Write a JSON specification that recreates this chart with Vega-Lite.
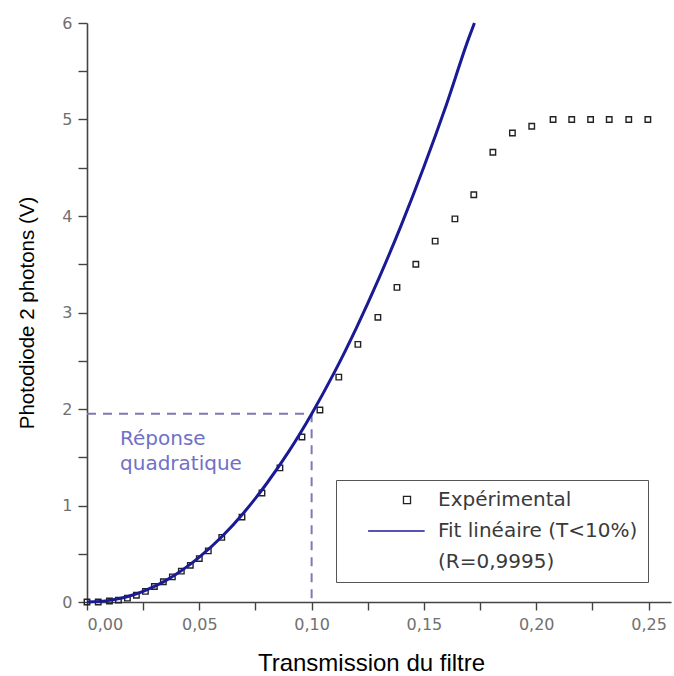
{
  "$schema": "https://vega.github.io/schema/vega-lite/v6.json",
  "width": 584,
  "height": 579,
  "autosize": "none",
  "padding": {"left": 87, "top": 23, "right": 3, "bottom": 74},
  "background": "white",
  "datasets": {
    "exp": [
      {"t": 0.000, "v": 0.00, "series": "Expérimental"},
      {"t": 0.005, "v": 0.00, "series": "Expérimental"},
      {"t": 0.010, "v": 0.01, "series": "Expérimental"},
      {"t": 0.014, "v": 0.02, "series": "Expérimental"},
      {"t": 0.018, "v": 0.04, "series": "Expérimental"},
      {"t": 0.022, "v": 0.07, "series": "Expérimental"},
      {"t": 0.026, "v": 0.11, "series": "Expérimental"},
      {"t": 0.030, "v": 0.16, "series": "Expérimental"},
      {"t": 0.034, "v": 0.21, "series": "Expérimental"},
      {"t": 0.038, "v": 0.26, "series": "Expérimental"},
      {"t": 0.042, "v": 0.32, "series": "Expérimental"},
      {"t": 0.046, "v": 0.38, "series": "Expérimental"},
      {"t": 0.050, "v": 0.45, "series": "Expérimental"},
      {"t": 0.054, "v": 0.53, "series": "Expérimental"},
      {"t": 0.060, "v": 0.67, "series": "Expérimental"},
      {"t": 0.069, "v": 0.88, "series": "Expérimental"},
      {"t": 0.0779, "v": 1.13, "series": "Expérimental"},
      {"t": 0.0859, "v": 1.39, "series": "Expérimental"},
      {"t": 0.0957, "v": 1.71, "series": "Expérimental"},
      {"t": 0.1037, "v": 1.99, "series": "Expérimental"},
      {"t": 0.1121, "v": 2.33, "series": "Expérimental"},
      {"t": 0.1206, "v": 2.67, "series": "Expérimental"},
      {"t": 0.1295, "v": 2.95, "series": "Expérimental"},
      {"t": 0.1380, "v": 3.26, "series": "Expérimental"},
      {"t": 0.1464, "v": 3.50, "series": "Expérimental"},
      {"t": 0.1550, "v": 3.74, "series": "Expérimental"},
      {"t": 0.1638, "v": 3.97, "series": "Expérimental"},
      {"t": 0.1722, "v": 4.22, "series": "Expérimental"},
      {"t": 0.1807, "v": 4.66, "series": "Expérimental"},
      {"t": 0.1894, "v": 4.86, "series": "Expérimental"},
      {"t": 0.1980, "v": 4.93, "series": "Expérimental"},
      {"t": 0.2075, "v": 5.00, "series": "Expérimental"},
      {"t": 0.2158, "v": 5.00, "series": "Expérimental"},
      {"t": 0.2242, "v": 5.00, "series": "Expérimental"},
      {"t": 0.2325, "v": 5.00, "series": "Expérimental"},
      {"t": 0.2412, "v": 5.00, "series": "Expérimental"},
      {"t": 0.2497, "v": 5.00, "series": "Expérimental"}
    ],
    "fit": [
      {"t": 0.000, "v": 0.000},
      {"t": 0.010, "v": 0.017},
      {"t": 0.015, "v": 0.038},
      {"t": 0.020, "v": 0.070},
      {"t": 0.025, "v": 0.111},
      {"t": 0.030, "v": 0.161},
      {"t": 0.035, "v": 0.222},
      {"t": 0.040, "v": 0.293},
      {"t": 0.045, "v": 0.374},
      {"t": 0.050, "v": 0.465},
      {"t": 0.060, "v": 0.676},
      {"t": 0.070, "v": 0.931},
      {"t": 0.080, "v": 1.228},
      {"t": 0.090, "v": 1.566},
      {"t": 0.100, "v": 1.949},
      {"t": 0.110, "v": 2.374},
      {"t": 0.120, "v": 2.844},
      {"t": 0.130, "v": 3.356},
      {"t": 0.140, "v": 3.911},
      {"t": 0.150, "v": 4.511},
      {"t": 0.160, "v": 5.154},
      {"t": 0.170, "v": 5.846},
      {"t": 0.1725, "v": 6.000}
    ],
    "guide": [
      {"t": 0.0, "v": 1.95},
      {"t": 0.1, "v": 1.95},
      {"t": 0.1, "v": 0.0}
    ],
    "note": [
      {"t": 0.0147, "v": 1.69, "label": "Réponse"},
      {"t": 0.0147, "v": 1.43, "label": "quadratique"}
    ]
  },
  "layer": [
    {
      "data": {"name": "guide"},
      "mark": {"type": "line", "color": "#7a7ab4", "strokeWidth": 2, "strokeDash": [9, 7]},
      "encoding": {
        "x": {"field": "t", "type": "quantitative", "scale": {"domain": [0, 0.26], "nice": false, "zero": false},
          "axis": {"orient": "bottom", "title": "Transmission du filtre", "titleFontSize": 24, "titleX": 284,
            "values": [0, 0.025, 0.05, 0.075, 0.1, 0.125, 0.15, 0.175, 0.2, 0.225, 0.25],
            "labelExpr": "abs(datum.value*20 - round(datum.value*20)) < 0.01 ? replace(format(datum.value, '.2f'), '.', ',') : ''",
            "tickSize": 8, "labelPadding": 6, "titlePadding": 19}},
        "y": {"field": "v", "type": "quantitative", "scale": {"domain": [0, 6], "nice": false},
          "axis": {"orient": "left", "title": "Photodiode 2 photons (V)", "titleFontSize": 20.5,
            "values": [0, 0.5, 1, 1.5, 2, 2.5, 3, 3.5, 4, 4.5, 5, 5.5, 6],
            "labelExpr": "datum.value % 1 === 0 ? format(datum.value, 'd') : ''",
            "tickSize": 9, "labelPadding": 6, "titlePadding": 24}}
      }
    },
    {
      "data": {"name": "exp"},
      "mark": {"type": "point", "filled": false, "size": 30, "strokeWidth": 1.4, "opacity": 1},
      "encoding": {
        "x": {"field": "t", "type": "quantitative"},
        "y": {"field": "v", "type": "quantitative"},
        "color": {
          "field": "series", "type": "nominal",
          "scale": {"domain": ["Expérimental", "Fit linéaire (T<10%)", "(R=0,9995)"], "range": ["#222222", "#1c1c96", "#ffffff"]},
          "legend": {
            "orient": "none", "legendX": 249, "legendY": 457, "title": null,
            "padding": 10, "strokeColor": "#555555", "fillColor": "white",
            "labelFont": "DejaVu Sans", "labelFontSize": 20, "labelColor": "#3a3a3a", "labelLimit": 500,
            "labelExpr": "datum.label === 'Fit linéaire (T<10%)' ? datum.label + '\u00a0\u00a0\u00a0\u00a0' : datum.label",
            "symbolSize": 50, "symbolStrokeWidth": 1.3, "rowPadding": 11, "labelOffset": 21, "symbolOffset": 51,
            "encode": {
              "legend": {"update": {"strokeWidth": {"value": 1.5}}},
              "symbols": {"update": {
                "strokeWidth": {"signal": "datum.value === 'Fit linéaire (T<10%)' ? 2.5 : 1.3"},
                "opacity": {"signal": "datum.value === '(R=0,9995)' ? 0 : 1"}
              }}
            }
          }
        },
        "shape": {
          "field": "series", "type": "nominal",
          "scale": {"domain": ["Expérimental", "Fit linéaire (T<10%)", "(R=0,9995)"], "range": ["square", "M-11,0H5", "circle"]},
          "legend": {
            "orient": "none", "legendX": 249, "legendY": 457, "title": null,
            "padding": 10, "strokeColor": "#555555", "fillColor": "white",
            "labelFont": "DejaVu Sans", "labelFontSize": 20, "labelColor": "#3a3a3a", "labelLimit": 500,
            "labelExpr": "datum.label === 'Fit linéaire (T<10%)' ? datum.label + '\u00a0\u00a0\u00a0\u00a0' : datum.label",
            "symbolSize": 50, "symbolStrokeWidth": 1.3, "rowPadding": 11, "labelOffset": 21, "symbolOffset": 51,
            "encode": {
              "legend": {"update": {"strokeWidth": {"value": 1.5}}},
              "symbols": {"update": {
                "strokeWidth": {"signal": "datum.value === 'Fit linéaire (T<10%)' ? 2.5 : 1.3"},
                "opacity": {"signal": "datum.value === '(R=0,9995)' ? 0 : 1"}
              }}
            }
          }
        }
      }
    },
    {
      "data": {"name": "fit"},
      "mark": {"type": "line", "color": "#1a1a94", "strokeWidth": 3, "interpolate": "monotone"},
      "encoding": {
        "x": {"field": "t", "type": "quantitative"},
        "y": {"field": "v", "type": "quantitative"}
      }
    },
    {
      "data": {"name": "note"},
      "mark": {"type": "text", "align": "left", "baseline": "middle", "font": "DejaVu Sans", "fontSize": 20, "color": "#7070c8"},
      "encoding": {
        "x": {"field": "t", "type": "quantitative"},
        "y": {"field": "v", "type": "quantitative"},
        "text": {"field": "label"}
      }
    }
  ],
  "config": {
    "view": {"stroke": null},
    "axis": {
      "grid": false,
      "domainColor": "#444444", "domainWidth": 1.6,
      "tickColor": "#444444", "tickWidth": 1.4,
      "labelFont": "DejaVu Sans", "labelFontSize": 16, "labelColor": "#707070",
      "titleFont": "Liberation Sans", "titleFontWeight": "normal", "titleColor": "#000000"
    }
  }
}
